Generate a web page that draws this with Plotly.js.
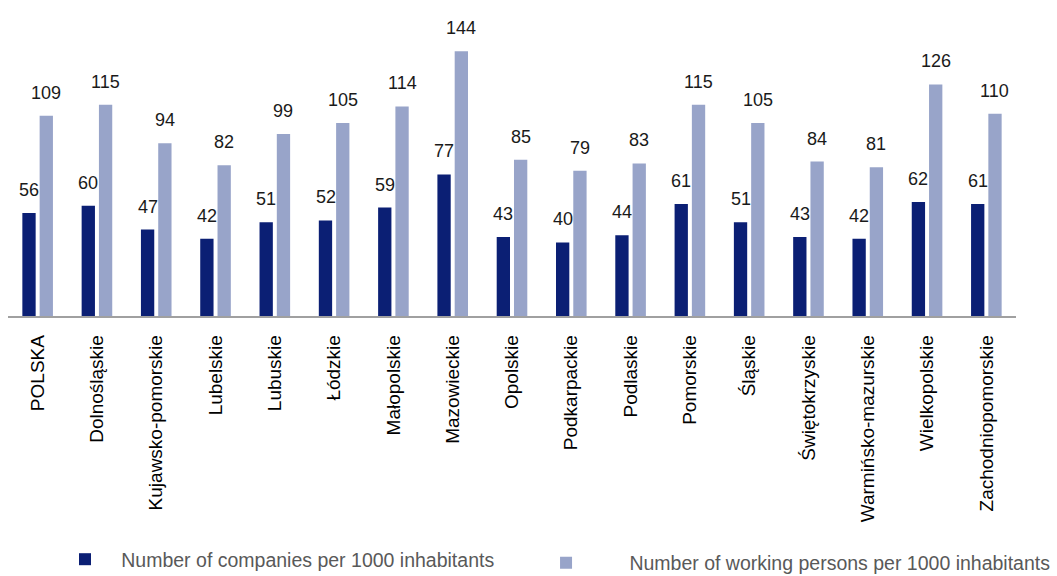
<!DOCTYPE html>
<html>
<head>
<meta charset="utf-8">
<script src="https://cdn.plot.ly/plotly-3.0.1.min.js"></script>
<style>html,body{margin:0;padding:0;background:#fff;}#chart{width:1057px;height:576px;}</style>
</head>
<body>
<div id="chart"></div>
<script>
const regions = ["POLSKA","Dolnośląskie","Kujawsko-pomorskie","Lubelskie","Lubuskie","Łódzkie","Małopolskie","Mazowieckie","Opolskie","Podkarpackie","Podlaskie","Pomorskie","Śląskie","Świętokrzyskie","Warmińsko-mazurskie","Wielkopolskie","Zachodniopomorskie"];
const companies = [56,60,47,42,51,52,59,77,43,40,44,61,51,43,42,62,61];
const workers = [109,115,94,82,99,105,114,144,85,79,83,115,105,84,81,126,110];
const seriesNames = ["Number of companies per 1000 inhabitants","Number of working persons per 1000 inhabitants"];
const colors = ["#0b1f74","#98a4c9"];

const FONT = "Liberation Sans, Arial, sans-serif";
const NB = "\u00a0";
const traces = [
  {type:"bar", x:regions, y:companies, name:NB.repeat(3) + seriesNames[0], marker:{color:colors[0]}, legend:"legend"},
  {type:"bar", x:regions, y:workers, name:NB.repeat(8) + seriesNames[1], marker:{color:colors[1]}, legend:"legend2"}
];

const annotations = [];
const series = [companies, workers];
series.forEach((vals, s) => {
  vals.forEach((v, i) => {
    annotations.push({
      x: regions[i], y: v, xref:"x", yref:"y",
      text: String(v), showarrow:false,
      xanchor:"center", yanchor:"bottom",
      xshift: s === 0 ? -8.6 : 8.6, yshift: 11,
      font:{family:FONT, size:18, color:"#1a1a1a"}
    });
  });
});

const legendFont = {family:FONT, size:19.5, color:"#595959"};
const layout = {
  width:1057, height:576,
  margin:{l:8, r:41, t:10, b:260},
  paper_bgcolor:"#fff", plot_bgcolor:"#fff",
  barmode:"group", bargap:0.417, bargroupgap:0.23,
  showlegend:true,
  legend:{orientation:"h", xref:"container", yref:"container", x:0.0615, xanchor:"left", y:0.0286, yanchor:"middle",
          font:legendFont, itemclick:false},
  legend2:{orientation:"h", xref:"container", yref:"container", x:0.5166, xanchor:"left", y:0.0226, yanchor:"middle",
          font:legendFont, itemclick:false},
  xaxis:{type:"category", showline:true, linecolor:"#a0a0a0", linewidth:1.5, automargin:false,
         ticks:"", tickangle:-90, ticklabelstandoff:10,
         tickfont:{family:FONT, size:19, color:"#000"}, showgrid:false, zeroline:false, fixedrange:true},
  yaxis:{range:[0,166.5], visible:false, showgrid:false, zeroline:false, fixedrange:true, automargin:false},
  annotations: annotations
};

Plotly.newPlot("chart", traces, layout, {displayModeBar:false, staticPlot:true});
</script>
</body>
</html>
